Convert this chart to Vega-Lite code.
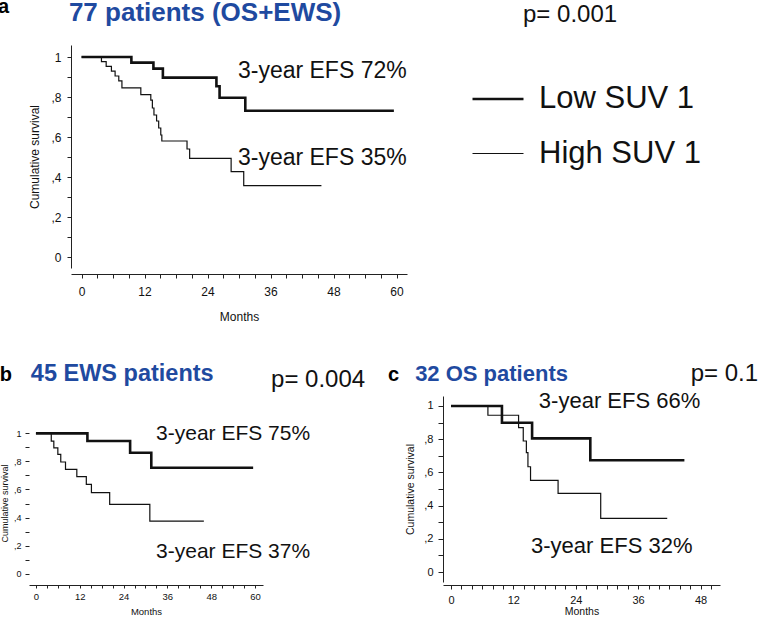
{
  "$schema": "https://vega.github.io/schema/vega-lite/v6.json",
  "background": "white",
  "padding": {"left": -2, "top": -3, "right": 0, "bottom": 0},
  "config": {
    "view": {"stroke": null},
    "font": "Liberation Sans",
    "axis": {"grid": false, "domainColor": "#222", "tickColor": "#222", "labelColor": "#111", "titleColor": "#111", "titleFontWeight": "normal", "labelFont": "Liberation Sans", "titleFont": "Liberation Sans", "labelOverlap": false, "labelFlush": false}
  },
  "datasets": {
    "curves": [
      {"panel": "a", "group": "Low SUV 1", "month": 0, "surv": 1},
      {"panel": "a", "group": "Low SUV 1", "month": 9.5, "surv": 0.972},
      {"panel": "a", "group": "Low SUV 1", "month": 13.7, "surv": 0.942},
      {"panel": "a", "group": "Low SUV 1", "month": 15.5, "surv": 0.897},
      {"panel": "a", "group": "Low SUV 1", "month": 25.7, "surv": 0.854},
      {"panel": "a", "group": "Low SUV 1", "month": 26.3, "surv": 0.796},
      {"panel": "a", "group": "Low SUV 1", "month": 31.2, "surv": 0.731},
      {"panel": "a", "group": "Low SUV 1", "month": 59.5, "surv": 0.731},
      {"panel": "a", "group": "High SUV 1", "month": 0, "surv": 1},
      {"panel": "a", "group": "High SUV 1", "month": 3.8, "surv": 0.977},
      {"panel": "a", "group": "High SUV 1", "month": 4.7, "surv": 0.953},
      {"panel": "a", "group": "High SUV 1", "month": 5.7, "surv": 0.929},
      {"panel": "a", "group": "High SUV 1", "month": 6.4, "surv": 0.905},
      {"panel": "a", "group": "High SUV 1", "month": 7.1, "surv": 0.881},
      {"panel": "a", "group": "High SUV 1", "month": 7.7, "surv": 0.846},
      {"panel": "a", "group": "High SUV 1", "month": 11.3, "surv": 0.812},
      {"panel": "a", "group": "High SUV 1", "month": 13.2, "surv": 0.784},
      {"panel": "a", "group": "High SUV 1", "month": 13.5, "surv": 0.745},
      {"panel": "a", "group": "High SUV 1", "month": 13.8, "surv": 0.71},
      {"panel": "a", "group": "High SUV 1", "month": 14.3, "surv": 0.68},
      {"panel": "a", "group": "High SUV 1", "month": 14.7, "surv": 0.645},
      {"panel": "a", "group": "High SUV 1", "month": 15.1, "surv": 0.61},
      {"panel": "a", "group": "High SUV 1", "month": 15.3, "surv": 0.58},
      {"panel": "a", "group": "High SUV 1", "month": 20.1, "surv": 0.54},
      {"panel": "a", "group": "High SUV 1", "month": 20.6, "surv": 0.493},
      {"panel": "a", "group": "High SUV 1", "month": 28.5, "surv": 0.427},
      {"panel": "a", "group": "High SUV 1", "month": 30.9, "surv": 0.357},
      {"panel": "a", "group": "High SUV 1", "month": 45.7, "surv": 0.357},
      {"panel": "b", "group": "Low SUV 1", "month": 0, "surv": 1},
      {"panel": "b", "group": "Low SUV 1", "month": 14.1, "surv": 0.945},
      {"panel": "b", "group": "Low SUV 1", "month": 25.8, "surv": 0.862},
      {"panel": "b", "group": "Low SUV 1", "month": 31.6, "surv": 0.755},
      {"panel": "b", "group": "Low SUV 1", "month": 59.5, "surv": 0.755},
      {"panel": "b", "group": "High SUV 1", "month": 0, "surv": 1},
      {"panel": "b", "group": "High SUV 1", "month": 4.2, "surv": 0.945},
      {"panel": "b", "group": "High SUV 1", "month": 4.9, "surv": 0.897},
      {"panel": "b", "group": "High SUV 1", "month": 6.0, "surv": 0.85},
      {"panel": "b", "group": "High SUV 1", "month": 6.8, "surv": 0.796},
      {"panel": "b", "group": "High SUV 1", "month": 8.1, "surv": 0.744},
      {"panel": "b", "group": "High SUV 1", "month": 11.2, "surv": 0.691},
      {"panel": "b", "group": "High SUV 1", "month": 13.8, "surv": 0.637},
      {"panel": "b", "group": "High SUV 1", "month": 15.2, "surv": 0.577},
      {"panel": "b", "group": "High SUV 1", "month": 20.2, "surv": 0.494},
      {"panel": "b", "group": "High SUV 1", "month": 31.2, "surv": 0.375},
      {"panel": "b", "group": "High SUV 1", "month": 46.0, "surv": 0.375},
      {"panel": "c", "group": "Low SUV 1", "month": 0, "surv": 1},
      {"panel": "c", "group": "Low SUV 1", "month": 9.8, "surv": 0.899},
      {"panel": "c", "group": "Low SUV 1", "month": 15.6, "surv": 0.805},
      {"panel": "c", "group": "Low SUV 1", "month": 26.8, "surv": 0.673},
      {"panel": "c", "group": "Low SUV 1", "month": 44.9, "surv": 0.673},
      {"panel": "c", "group": "High SUV 1", "month": 0, "surv": 1},
      {"panel": "c", "group": "High SUV 1", "month": 7.1, "surv": 0.944},
      {"panel": "c", "group": "High SUV 1", "month": 13.0, "surv": 0.869},
      {"panel": "c", "group": "High SUV 1", "month": 13.9, "surv": 0.789},
      {"panel": "c", "group": "High SUV 1", "month": 14.5, "surv": 0.719},
      {"panel": "c", "group": "High SUV 1", "month": 14.8, "surv": 0.634},
      {"panel": "c", "group": "High SUV 1", "month": 15.3, "surv": 0.552},
      {"panel": "c", "group": "High SUV 1", "month": 20.6, "surv": 0.474},
      {"panel": "c", "group": "High SUV 1", "month": 28.8, "surv": 0.323},
      {"panel": "c", "group": "High SUV 1", "month": 41.6, "surv": 0.323}
    ],
    "notes": [
      {"panel": "a", "kind": "letter", "txt": "a", "month": -15.9, "surv": 1.22},
      {"panel": "a", "kind": "heading", "txt": "77 patients (OS+EWS)", "month": -2.4, "surv": 1.18},
      {"panel": "a", "kind": "pval", "txt": "p= 0.001", "month": 84.1, "surv": 1.175},
      {"panel": "a", "kind": "efs", "txt": "3-year EFS 72%", "month": 29.8, "surv": 0.895},
      {"panel": "a", "kind": "efs", "txt": "3-year EFS 35%", "month": 29.8, "surv": 0.46},
      {"panel": "b", "kind": "letter", "txt": "b", "month": -9.9, "surv": 1.372},
      {"panel": "b", "kind": "heading", "txt": "45 EWS patients", "month": -1.4, "surv": 1.372},
      {"panel": "b", "kind": "pval", "txt": "p= 0.004", "month": 64.4, "surv": 1.33},
      {"panel": "b", "kind": "efs", "txt": "3-year EFS 75%", "month": 32.9, "surv": 0.952},
      {"panel": "b", "kind": "efs", "txt": "3-year EFS 37%", "month": 32.9, "surv": 0.114},
      {"panel": "c", "kind": "letter", "txt": "c", "month": -12.1, "surv": 1.15},
      {"panel": "c", "kind": "heading", "txt": "32 OS patients", "month": -6.9, "surv": 1.15},
      {"panel": "c", "kind": "pval", "txt": "p= 0.1", "month": 46.1, "surv": 1.15},
      {"panel": "c", "kind": "efs", "txt": "3-year EFS 66%", "month": 16.9, "surv": 0.99},
      {"panel": "c", "kind": "efs", "txt": "3-year EFS 32%", "month": 15.4, "surv": 0.116}
    ]
  },
  "spacing": 40,
  "vconcat": [
    {
      "width": 336,
      "height": 223,
      "encoding": {
        "x": {"field": "month", "type": "quantitative", "scale": {"domain": [-2, 62], "nice": false, "zero": false},
          "axis": {"title": "Months", "values": [0,3,6,9,12,15,18,21,24,27,30,33,36,39,42,45,48,51,54,57,60], "labelExpr": "datum.value % 12 == 0 ? datum.label : ''", "offset": 6, "tickSize": 4, "labelPadding": 8, "labelFontSize": 12, "titleFontSize": 12, "titlePadding": 14}},
        "y": {"field": "surv", "type": "quantitative", "scale": {"domain": [-0.055, 1.06], "nice": false, "zero": false},
          "axis": {"title": "Cumulative survival", "values": [0,0.1,0.2,0.3,0.4,0.5,0.6,0.7,0.8,0.9,1], "labelExpr": "datum.value == 0 ? '0' : datum.value == 1 ? '1' : (round(datum.value*10) % 2 == 0 ? ',' + round(datum.value*10) : '')", "tickSize": 4, "labelPadding": 6, "labelFontSize": 12, "titleFontSize": 12, "titlePadding": 9}}
      },
      "layer": [
        {
          "data": {"name": "curves"},
          "transform": [{"filter": "datum.panel == 'a'"}],
          "mark": {"type": "line", "interpolate": "step-after", "color": "#111"},
          "encoding": {
            "strokeWidth": {"field": "group", "type": "nominal",
              "scale": {"domain": ["Low SUV 1", "High SUV 1"], "range": [2.6, 1.2]},
              "legend": {"orient": "none", "legendX": 400, "legendY": 27, "title": null, "labelFontSize": 31, "labelLimit": 400, "labelFont": "Liberation Sans", "labelColor": "#111", "symbolType": "stroke", "symbolSize": 2600, "symbolStrokeColor": "#111", "labelOffset": 14, "rowPadding": 13, "padding": 0}}
          }
        },
        {
          "data": {"name": "notes"},
          "transform": [{"filter": "datum.panel == 'a' && datum.kind == 'efs'"}],
          "mark": {"type": "text", "align": "left", "baseline": "alphabetic", "fontSize": 23, "color": "#111"},
          "encoding": {"text": {"field": "txt"}}
        },
        {
          "data": {"name": "notes"},
          "transform": [{"filter": "datum.panel == 'a' && datum.kind == 'pval'"}],
          "mark": {"type": "text", "align": "left", "baseline": "alphabetic", "fontSize": 24, "color": "#111"},
          "encoding": {"text": {"field": "txt"}}
        },
        {
          "data": {"name": "notes"},
          "transform": [{"filter": "datum.panel == 'a' && datum.kind == 'heading'"}],
          "mark": {"type": "text", "align": "left", "baseline": "alphabetic", "fontSize": 26, "fontWeight": "bold", "color": "#1f4aa0"},
          "encoding": {"text": {"field": "txt"}}
        },
        {
          "data": {"name": "notes"},
          "transform": [{"filter": "datum.panel == 'a' && datum.kind == 'letter'"}],
          "mark": {"type": "text", "align": "left", "baseline": "alphabetic", "fontSize": 20, "fontWeight": "bold", "color": "#000"},
          "encoding": {"text": {"field": "txt"}}
        }
      ]
    },
    {
      "spacing": 22,
      "hconcat": [
        {
          "width": 192,
          "height": 186,
          "encoding": {
            "x": {"field": "month", "type": "quantitative", "scale": {"domain": [-1.9, 62.2], "range": [-42, 192], "nice": false, "zero": false},
              "axis": {"title": "Months", "values": [0,3,6,9,12,15,18,21,24,27,30,33,36,39,42,45,48,51,54,57,60], "labelExpr": "datum.value % 12 == 0 ? datum.label : ''", "offset": 3, "tickSize": 3, "labelPadding": 3, "labelFontSize": 9.5, "titleFontSize": 9.5, "titlePadding": 6}},
            "y": {"field": "surv", "type": "quantitative", "scale": {"domain": [-0.059, 1.266], "nice": false, "zero": false},
              "axis": {"title": "Cumulative survival", "domain": false, "offset": 42, "values": [0,0.1,0.2,0.3,0.4,0.5,0.6,0.7,0.8,0.9,1], "labelExpr": "datum.value == 0 ? '0' : datum.value == 1 ? '1' : (round(datum.value*10) % 2 == 0 ? ',' + round(datum.value*10) : '')", "tickSize": 4, "labelPadding": 4, "labelFontSize": 9, "titleFontSize": 9, "titlePadding": 4, "titleY": 107}}
          },
          "layer": [
            {
              "data": {"values": [{}]},
              "mark": {"type": "rule", "color": "#222", "strokeWidth": 1},
              "encoding": {"x": {"datum": -1.9, "type": "quantitative"}, "y": {"datum": -0.059, "type": "quantitative"}, "y2": {"datum": 1.052}}
            },
            {
              "data": {"name": "curves"},
              "transform": [{"filter": "datum.panel == 'b'"}],
              "mark": {"type": "line", "interpolate": "step-after", "color": "#111"},
              "encoding": {
                "strokeWidth": {"field": "group", "type": "nominal", "scale": {"domain": ["Low SUV 1", "High SUV 1"], "range": [2.6, 1.2]}}
              }
            },
            {
              "data": {"name": "notes"},
              "transform": [{"filter": "datum.panel == 'b' && datum.kind == 'efs'"}],
              "mark": {"type": "text", "align": "left", "baseline": "alphabetic", "fontSize": 21, "color": "#111"},
              "encoding": {"text": {"field": "txt"}}
            },
            {
              "data": {"name": "notes"},
              "transform": [{"filter": "datum.panel == 'b' && datum.kind == 'pval'"}],
              "mark": {"type": "text", "align": "left", "baseline": "alphabetic", "fontSize": 24, "color": "#111"},
              "encoding": {"text": {"field": "txt"}}
            },
            {
              "data": {"name": "notes"},
              "transform": [{"filter": "datum.panel == 'b' && datum.kind == 'heading'"}],
              "mark": {"type": "text", "align": "left", "baseline": "alphabetic", "fontSize": 23.5, "fontWeight": "bold", "color": "#1f4aa0"},
              "encoding": {"text": {"field": "txt"}}
            },
            {
              "data": {"name": "notes"},
              "transform": [{"filter": "datum.panel == 'b' && datum.kind == 'letter'"}],
              "mark": {"type": "text", "align": "left", "baseline": "alphabetic", "fontSize": 20, "fontWeight": "bold", "color": "#000"},
              "encoding": {"text": {"field": "txt"}}
            }
          ]
        },
        {
          "width": 277,
          "height": 186,
          "encoding": {
            "x": {"field": "month", "type": "quantitative", "scale": {"domain": [-1.54, 51.75], "nice": false, "zero": false},
              "axis": {"title": "Months", "values": [0,2,4,6,8,10,12,14,16,18,20,22,24,26,28,30,32,34,36,38,40,42,44,46,48,50], "labelExpr": "datum.value % 12 == 0 ? datum.label : ''", "offset": 3, "tickSize": 4, "labelPadding": 5, "labelFontSize": 11, "titleFontSize": 10.5, "titlePadding": 1}},
            "y": {"field": "surv", "type": "quantitative", "scale": {"domain": [-0.06, 1.06], "nice": false, "zero": false},
              "axis": {"title": "Cumulative survival", "values": [0,0.1,0.2,0.3,0.4,0.5,0.6,0.7,0.8,0.9,1], "labelExpr": "datum.value == 0 ? '0' : datum.value == 1 ? '1' : (round(datum.value*10) % 2 == 0 ? ',' + round(datum.value*10) : '')", "tickSize": 5, "labelPadding": 5, "labelFontSize": 11, "titleFontSize": 10.5, "titlePadding": 8}}
          },
          "layer": [
            {
              "data": {"name": "curves"},
              "transform": [{"filter": "datum.panel == 'c'"}],
              "mark": {"type": "line", "interpolate": "step-after", "color": "#111"},
              "encoding": {
                "strokeWidth": {"field": "group", "type": "nominal", "scale": {"domain": ["Low SUV 1", "High SUV 1"], "range": [2.6, 1.2]}}
              }
            },
            {
              "data": {"name": "notes"},
              "transform": [{"filter": "datum.panel == 'c' && datum.kind == 'efs'"}],
              "mark": {"type": "text", "align": "left", "baseline": "alphabetic", "fontSize": 22, "color": "#111"},
              "encoding": {"text": {"field": "txt"}}
            },
            {
              "data": {"name": "notes"},
              "transform": [{"filter": "datum.panel == 'c' && datum.kind == 'pval'"}],
              "mark": {"type": "text", "align": "left", "baseline": "alphabetic", "fontSize": 24, "color": "#111"},
              "encoding": {"text": {"field": "txt"}}
            },
            {
              "data": {"name": "notes"},
              "transform": [{"filter": "datum.panel == 'c' && datum.kind == 'heading'"}],
              "mark": {"type": "text", "align": "left", "baseline": "alphabetic", "fontSize": 22, "fontWeight": "bold", "color": "#1f4aa0"},
              "encoding": {"text": {"field": "txt"}}
            },
            {
              "data": {"name": "notes"},
              "transform": [{"filter": "datum.panel == 'c' && datum.kind == 'letter'"}],
              "mark": {"type": "text", "align": "left", "baseline": "alphabetic", "fontSize": 20, "fontWeight": "bold", "color": "#000"},
              "encoding": {"text": {"field": "txt"}}
            }
          ]
        }
      ]
    }
  ]
}
